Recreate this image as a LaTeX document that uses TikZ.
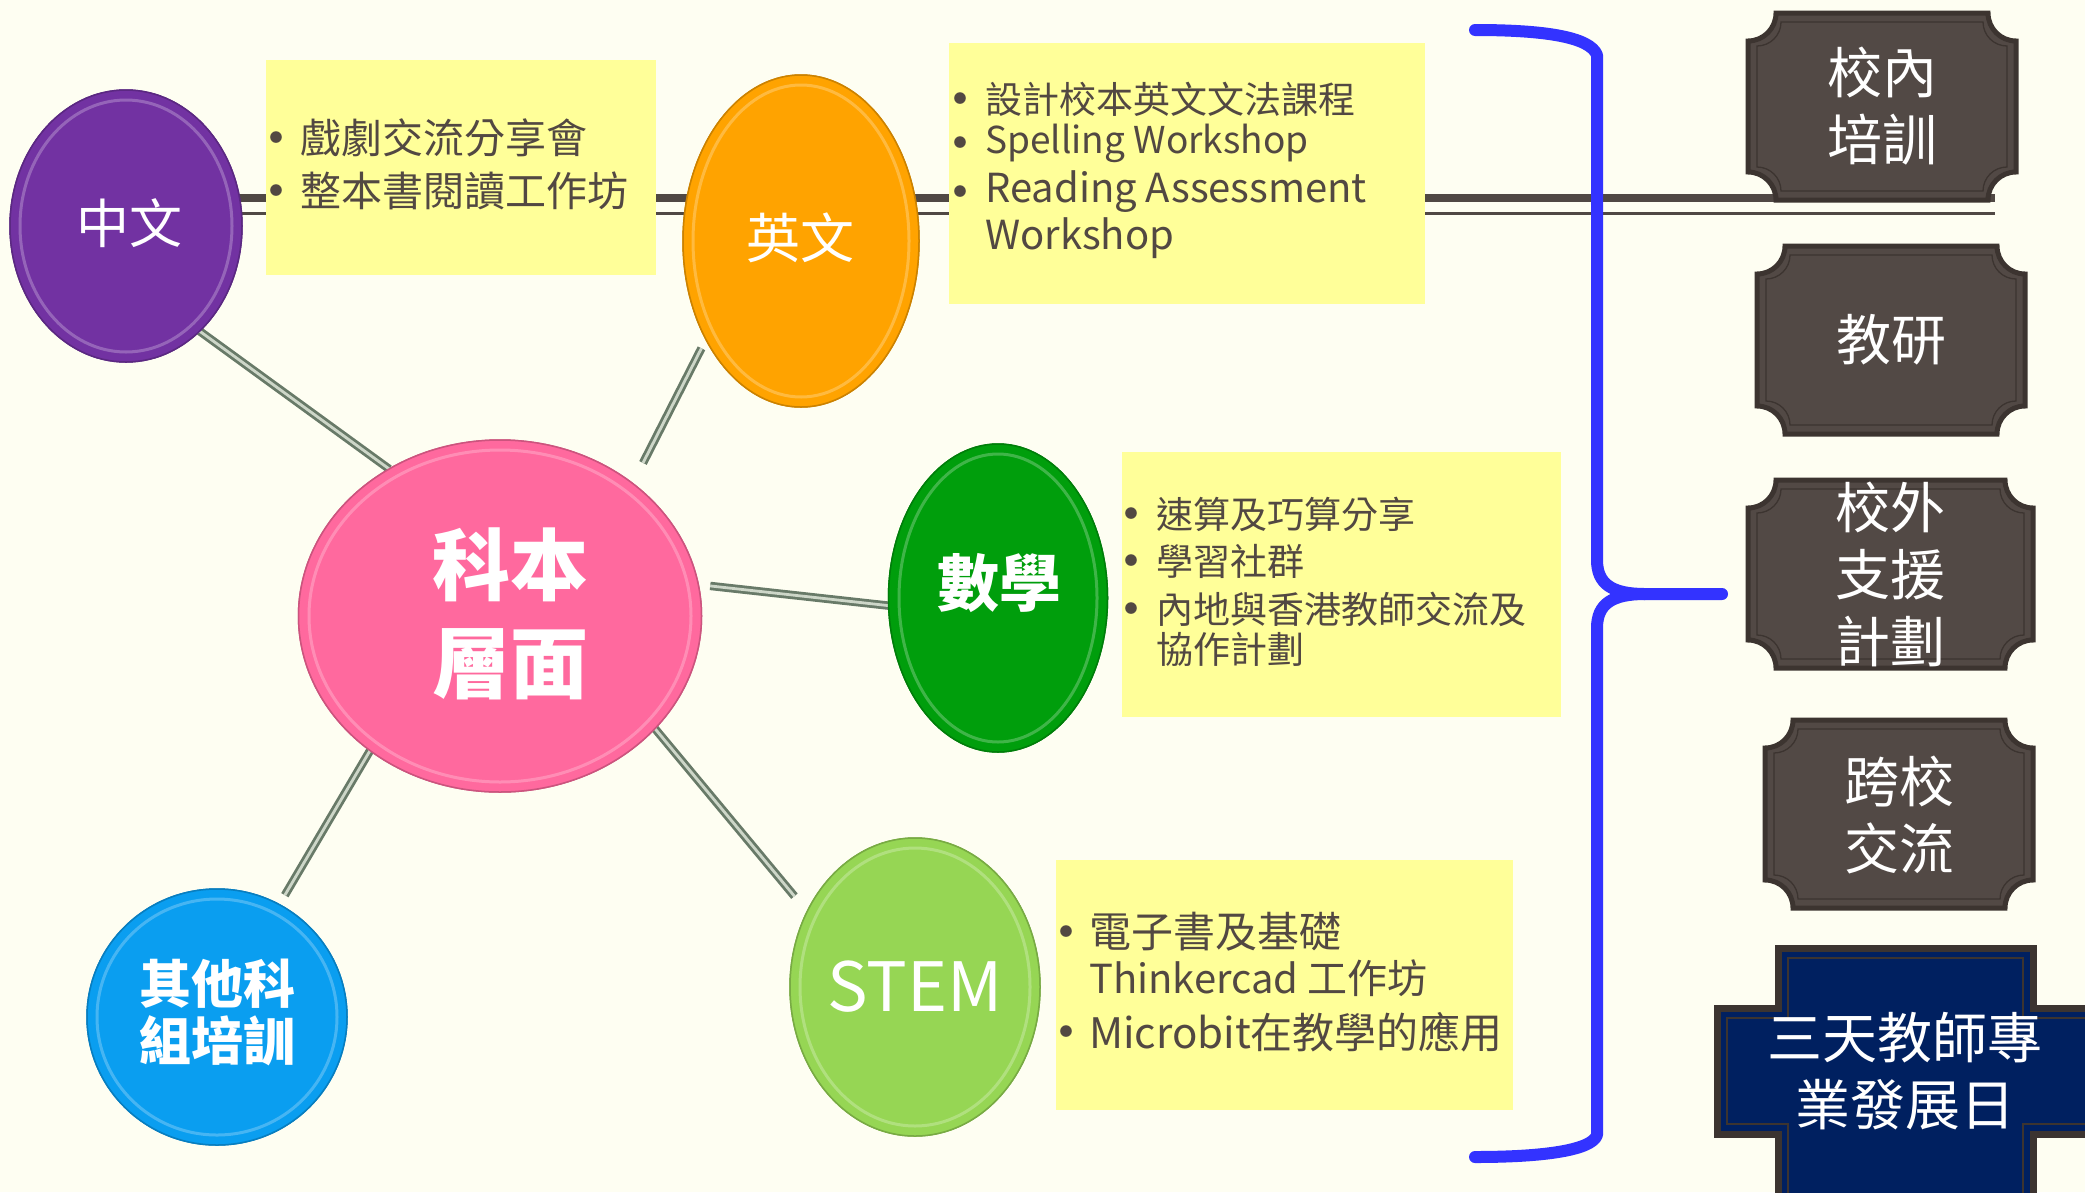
\documentclass[tikz,border=0pt]{standalone}
\usepackage{fontspec}
\setmainfont{Noto Sans CJK TC}
\usetikzlibrary{shapes.geometric}
\definecolor{cBg}{RGB}{254,254,242}
\definecolor{cYel}{RGB}{255,255,153}
\definecolor{cTxt}{RGB}{82,72,66}
\definecolor{cHline}{RGB}{80,72,68}
\definecolor{cConn}{RGB}{104,122,104}
\definecolor{cConnIn}{RGB}{205,214,200}
\definecolor{cPurp}{RGB}{114,50,162}
\definecolor{cOran}{RGB}{255,163,0}
\definecolor{cPink}{RGB}{255,105,158}
\definecolor{cGrn}{RGB}{0,158,12}
\definecolor{cLgrn}{RGB}{150,214,84}
\definecolor{cBlu}{RGB}{10,158,240}
\definecolor{cBrace}{RGB}{51,51,255}
\definecolor{cPlq}{RGB}{82,73,69}
\definecolor{cPlqB}{RGB}{60,52,48}
\definecolor{cNavy}{RGB}{0,32,96}
\newcommand{\fsz}[1]{\fontsize{#1}{#1}\selectfont}
\newcommand{\plqpath}[5]{({#1+#5},{#2}) -- ({#3-#5},{#2}) arc[start angle=180,end angle=90,radius=#5] -- ({#3},{#4-#5}) arc[start angle=270,end angle=180,radius=#5] -- ({#1+#5},{#4}) arc[start angle=0,end angle=-90,radius=#5] -- ({#1},{#2+#5}) arc[start angle=90,end angle=0,radius=#5] -- cycle}
\newcommand{\myplaque}[4]{%
  \filldraw[fill=cPlq, draw=cPlqB, line width=5] \plqpath{#1}{#2}{#3}{#4}{28};
  \draw[cPlqB, line width=1.3] \plqpath{#1+9}{#2+9}{#3-9}{#4-9}{24};}
\newcommand{\bevel}[4]{\draw[#4!45!white, line width=3, opacity=.45] (#1.center) ellipse [x radius=#2, y radius=#3];}
\tikzset{
  bub/.style={ellipse, inner sep=0, outer sep=0, fill=#1, draw=#1!80!black, line width=1.5},
  wt/.style={text=white, inner sep=0, align=center},
  ybox/.style={rectangle, fill=cYel, inner sep=0, outer sep=0},
  bt/.style={text=cTxt, anchor=west, inner sep=0},
  bul/.style={text=cTxt, inner sep=0, font=\fsz{13}},
  conn/.style={draw=cConn, line width=2.8, double=cConnIn, double distance=2.8},
  brc/.style={draw=cBrace, line width=12, line cap=round, line join=round},
  pt/.style={text=white, inner sep=0, align=center, font=\fontsize{55}{67}\selectfont}
}
\begin{document}
\begin{tikzpicture}[x=1pt,y=-1pt]
\useasboundingbox (0,0) rectangle (2085,1192);
\fill[cBg] (0,0) rectangle (2085,1192);
\begin{scope}
\clip (0,0) rectangle (2085,1192);
% horizontal double line
\coordinate (hA0) at (200,198); \coordinate (hA1) at (1995,198);
\coordinate (hB0) at (200,213.5); \coordinate (hB1) at (1995,213.5);
\draw[cHline, line width=7.5] (hA0) -- (hA1);
\draw[cHline, line width=2.7] (hB0) -- (hB1);
% ellipse nodes (anchors for connectors)
\node[bub=cPurp, minimum width=232, minimum height=272] (zh) at (126,226) {};
\node[bub=cOran, minimum width=236, minimum height=332] (en) at (801,241) {};
\node[bub=cPink, minimum width=403, minimum height=352] (kb) at (500,616) {};
\node[bub=cGrn, minimum width=219, minimum height=308] (ma) at (998,598) {};
\node[bub=cLgrn, minimum width=250, minimum height=298] (stem) at (915,987) {};
\node[bub=cBlu, minimum width=260, minimum height=256] (oth) at (217,1017) {};
% connectors
\draw[conn] (zh.-55) -- (kb.127);
\draw[conn, shorten <=10, shorten >=23] (en.-134) -- (kb.45);
\draw[conn, shorten <=12] (kb.9) -- (ma.-176);
\draw[conn, shorten >=20] (kb.-36) -- (stem.145);
\draw[conn, shorten >=11] (kb.-134) -- (oth.61);
% ellipses again on top of connectors
\node[bub=cPurp, minimum width=232, minimum height=272] (zh2) at (zh) {};
\node[bub=cOran, minimum width=236, minimum height=332] (en2) at (en) {};
\node[bub=cPink, minimum width=403, minimum height=352] (kb2) at (kb) {};
\node[bub=cGrn, minimum width=219, minimum height=308] (ma2) at (ma) {};
\node[bub=cLgrn, minimum width=250, minimum height=298] (stem2) at (stem) {};
\node[bub=cBlu, minimum width=260, minimum height=256] (oth2) at (oth) {};
\bevel{zh}{106}{126}{cPurp}
\bevel{en}{108}{156}{cOran}
\bevel{kb}{191}{166}{cPink}
\bevel{ma}{99}{144}{cGrn}
\bevel{stem}{115}{139}{cLgrn}
\bevel{oth}{120}{118}{cBlu}
% ellipse texts
\node[wt, font=\fsz{53}] (zht) at (129,223) {中文};
\node[wt, font=\fsz{54}] (ent) at (800,238) {英文};
\node[wt, font=\bfseries\fontsize{78}{98}\selectfont] (kbt) at (510,614) {科本\\層面};
\node[wt, font=\bfseries\fsz{62}] (mat) at (999,583) {數學};
\node[wt, font=\fsz{68}] (stemt) at (915,987) {STEM};
\node[wt, font=\bfseries\fontsize{52}{57}\selectfont] (otht) at (217,1012) {其他科\\組培訓};
% yellow boxes
\node[ybox, minimum width=390, minimum height=215] (yb1) at (461,167.5) {};
\node[ybox, minimum width=476, minimum height=261] (yb2) at (1187,173.5) {};
\node[ybox, minimum width=439, minimum height=265] (yb3) at (1341.5,584.5) {};
\node[ybox, minimum width=457, minimum height=250] (yb4) at (1284.5,985) {};
% box 1 texts
\node[bul] (b1a) at (276,138) {●};
\node[bul] (b1b) at (276,191) {●};
\node[bt, font=\fsz{41}] (t1a) at (300,138) {戲劇交流分享會};
\node[bt, font=\fsz{41}] (t1b) at (300,191) {整本書閱讀工作坊};
% box 2 texts
\node[bul] (b2a) at (960,99) {●};
\node[bul] (b2b) at (960,143) {●};
\node[bul] (b2c) at (960,192) {●};
\node[bt, font=\fsz{37}] (t2a) at (985,99) {設計校本英文文法課程};
\node[bt, font=\fsz{37}] (t2b) at (985,143) {Spelling Workshop};
\node[bt, font=\fsz{40}] (t2c) at (985,192) {Reading Assessment};
\node[bt, font=\fsz{40}] (t2d) at (985,238) {Workshop};
% box 3 texts
\node[bul] (b3a) at (1131,514) {●};
\node[bul] (b3b) at (1131,561) {●};
\node[bul] (b3c) at (1131,609) {●};
\node[bt, font=\fsz{37}] (t3a) at (1156,514) {速算及巧算分享};
\node[bt, font=\fsz{37}] (t3b) at (1156,561) {學習社群};
\node[bt, font=\fsz{37}] (t3c) at (1156,609) {內地與香港教師交流及};
\node[bt, font=\fsz{37}] (t3d) at (1156,649) {協作計劃};
% box 4 texts
\node[bul] (b4a) at (1066,932) {●};
\node[bul] (b4b) at (1066,1032) {●};
\node[bt, font=\fsz{42}] (t4a) at (1089,932) {電子書及基礎};
\node[bt, font=\fsz{40}] (t4b) at (1089,978) {Thinkercad 工作坊};
\node[bt, font=\fsz{42}] (t4c) at (1089,1032) {Microbit在教學的應用};
% brace
\coordinate (brTop) at (1475,30);
\coordinate (brTip) at (1722,594);
\coordinate (brMid) at (1645,594);
\coordinate (brBot) at (1475,1157);
\draw[brc] (brTop) .. controls (1545,30) and (1590,37) .. (1597,55) -- (1597,560) .. controls (1597,584) and (1612,594) .. (brMid) -- (brTip);
\draw[brc] (brMid) .. controls (1612,594) and (1597,604) .. (1597,628) -- (1597,1135) .. controls (1592,1150) and (1545,1157) .. (brBot);
% plaques
\myplaque{1748}{13}{2016}{200}
\myplaque{1757}{246}{2025}{434}
\myplaque{1748}{480}{2033}{668}
\myplaque{1765}{720}{2033}{908}
\filldraw[fill=cNavy, draw=cPlqB, line width=7] (1778,948) -- (2033,948) -- (2033,1008) -- (2100,1008) -- (2100,1134) -- (2033,1134) -- (2033,1210) -- (1778,1210) -- (1778,1134) -- (1717,1134) -- (1717,1008) -- (1778,1008) -- cycle;
\draw[cPlqB, line width=1.5] (1788,958) -- (2023,958) -- (2023,1018) -- (2100,1018) -- (2100,1124) -- (2023,1124) -- (2023,1210) -- (1788,1210) -- (1788,1124) -- (1727,1124) -- (1727,1018) -- (1788,1018) -- cycle;
\node[pt] (p1) at (1882,106) {校內\\培訓};
\node[pt] (p2) at (1891,340) {教研};
\node[pt] (p3) at (1890,574) {校外\\支援\\計劃};
\node[pt] (p4) at (1899,815) {跨校\\交流};
\node[pt] (p5) at (1905,1071) {三天教師專\\業發展日};
\end{scope}
\end{tikzpicture}
\end{document}
